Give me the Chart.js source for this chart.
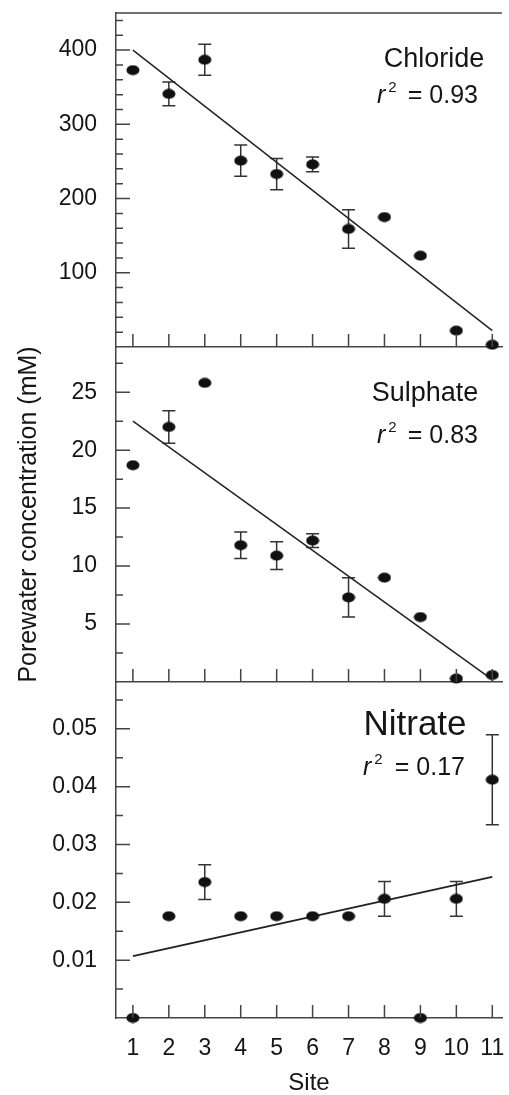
<!DOCTYPE html>
<html>
<head>
<meta charset="utf-8">
<script src="https://cdn.jsdelivr.net/npm/chart.js@4.4.0/dist/chart.umd.min.js"></script>
<style>
  html, body { margin: 0; padding: 0; background: #fff; }
  #wrap { position: relative; width: 509px; height: 1095px; overflow: hidden; }
  #wrap canvas { position: absolute; left: 0; top: 0; }
</style>
</head>
<body>
<div id="wrap">
  <canvas id="chloride" width="509" height="1095"></canvas>
  <canvas id="sulphate" width="509" height="1095"></canvas>
  <canvas id="nitrate" width="509" height="1095"></canvas>
</div>
<script>
// data
const sites = [1, 2, 3, 4, 5, 6, 7, 8, 9, 10, 11];
const chloride = [373, 341, 387, 251, 233, 246, 159, 175, 123, 22, 3];
const chlorideErr = [0, 16, 21, 21, 21, 10, 26, 0, 0, 0, 0];
const sulphate = [18.7, 22.0, 25.8, 11.8, 10.9, 12.2, 7.3, 9.0, 5.6, 0.3, 0.6];
const sulphateErr = [0, 1.4, 0, 1.15, 1.2, 0.6, 1.7, 0, 0, 0, 0];
const nitrate = [0, 0.0176, 0.0235, 0.0176, 0.0176, 0.0176, 0.0176, 0.0206, 0, 0.0206, 0.0412];
const nitrateErr = [0, 0, 0.003, 0, 0, 0, 0, 0.003, 0, 0.003, 0.0078];

// regression lines (end points at site 1 and 11)
const fitSites = [1, 11];
const chlorideFit = [400, 22];
const sulphateFit = [22.5, 0.2];
const nitrateFit = [0.0107, 0.0244];
const rSquared = ['0.93', '0.83', '0.17'];

// tick labels
const xTickLabels = ['1', '2', '3', '4', '5', '6', '7', '8', '9', '10', '11'];
const chlorideTicks = [100, 200, 300, 400];
const sulphateTicks = [5, 10, 15, 20, 25];
const nitrateTicks = [0.01, 0.02, 0.03, 0.04, 0.05];

const FONT = "'Liberation Sans', Arial, Helvetica, sans-serif";
const INK = '#151515';
const AXIS = '#444';

// slightly flattened dot like in the original print
const dot = document.createElement('canvas');
dot.width = 14; dot.height = 11;
const dctx = dot.getContext('2d');
dctx.fillStyle = '#111';
dctx.beginPath();
dctx.ellipse(7, 5.5, 6.5, 5, 0, 0, Math.PI * 2);
dctx.fill();

// error bars, inside ticks, top frame and panel labels
const panelDecor = {
    id: 'panelDecor',
    beforeDatasetsDraw(chart, args, o) {
        const { ctx, scales: { x, y } } = chart;
        ctx.save();
        ctx.strokeStyle = '#333';
        ctx.lineWidth = 1.5;
        ctx.beginPath();
        o.values.forEach((v, i) => {
            const e = o.err[i];
            if (!e) return;
            const px = x.getPixelForValue(sites[i]);
            const top = y.getPixelForValue(v + e);
            const bot = y.getPixelForValue(v - e);
            ctx.moveTo(px, top); ctx.lineTo(px, bot);
            ctx.moveTo(px - 6.5, top); ctx.lineTo(px + 6.5, top);
            ctx.moveTo(px - 6.5, bot); ctx.lineTo(px + 6.5, bot);
        });
        ctx.stroke();
        ctx.restore();
    },
    afterDraw(chart, args, o) {
        const { ctx, chartArea: a, scales: { x, y } } = chart;
        ctx.save();
        ctx.strokeStyle = AXIS;
        ctx.lineWidth = 1.5;
        ctx.beginPath();
        const n = Math.floor(y.max / o.minorStep + 1e-6);
        for (let k = 1; k <= n; k++) {
            const v = k * o.minorStep;
            const py = y.getPixelForValue(v);
            const major = k % o.minorPerMajor === 0;
            ctx.moveTo(a.left, py);
            ctx.lineTo(a.left + (major ? 14 : 7), py);
        }
        sites.forEach(s => {
            const px = x.getPixelForValue(s);
            ctx.moveTo(px, a.bottom);
            ctx.lineTo(px, a.bottom - 13);
        });
        if (o.topBorder) {
            ctx.moveTo(a.left, a.top);
            ctx.lineTo(a.right, a.top);
        }
        ctx.stroke();

        // panel name
        ctx.fillStyle = INK;
        ctx.textBaseline = 'alphabetic';
        ctx.textAlign = 'center';
        ctx.font = o.nameSize + 'px ' + FONT;
        ctx.fillText(o.name, o.nameX, o.nameY);

        // r^2 = value
        ctx.textAlign = 'left';
        ctx.font = 'italic 25px ' + FONT;
        ctx.fillText('r', o.rLeft, o.rY);
        const rw = ctx.measureText('r').width;
        ctx.font = '15px ' + FONT;
        ctx.fillText('2', o.rLeft + rw + 3, o.rY - 11);
        ctx.textAlign = 'right';
        ctx.font = '25px ' + FONT;
        ctx.fillText('= ' + o.r2, o.rRight, o.rY);
        ctx.restore();
    }
};

function makePanel(id, opts) {
    const isBottom = !!opts.bottom;
    new Chart(document.getElementById(id), {
        type: 'scatter',
        data: {
            datasets: [{
                data: sites.map((s, i) => ({ x: s, y: opts.values[i] })),
                pointStyle: dot,
                pointRadius: 6,
                pointHoverRadius: 6,
                clip: false
            }, {
                data: fitSites.map((s, i) => ({ x: s, y: opts.fit[i] })),
                showLine: true,
                borderColor: '#222',
                borderWidth: opts.fitWidth,
                pointRadius: 0,
                pointHoverRadius: 0
            }]
        },
        options: {
            responsive: false,
            animation: false,
            events: [],
            layout: { padding: { top: opts.top, bottom: opts.bottomPad, left: 0, right: 0 } },
            plugins: {
                legend: { display: false },
                tooltip: { enabled: false },
                panelDecor: {
                    values: opts.values,
                    err: opts.err,
                    minorStep: opts.minorStep,
                    minorPerMajor: opts.minorPerMajor,
                    topBorder: !!opts.topBorder,
                    name: opts.name, nameSize: opts.nameSize, nameX: opts.nameX, nameY: opts.nameY,
                    r2: opts.r2, rLeft: opts.rLeft, rRight: opts.rRight, rY: opts.rY
                }
            },
            scales: {
                x: {
                    type: 'linear',
                    min: 0.53,
                    max: 11.27,
                    grid: { display: false, drawTicks: false },
                    border: { display: true, color: AXIS, width: 1.5 },
                    afterBuildTicks: s => { s.ticks = sites.map(v => ({ value: v })); },
                    ticks: {
                        display: isBottom,
                        autoSkip: false,
                        maxRotation: 0,
                        padding: 17,
                        color: INK,
                        font: { family: FONT, size: 23, lineHeight: 1.2 },
                        callback: (v, i) => xTickLabels[i]
                    },
                    title: {
                        display: isBottom,
                        text: 'Site',
                        color: INK,
                        padding: { top: 0, bottom: 0 },
                        font: { family: FONT, size: 24, lineHeight: 1 }
                    },
                    afterFit: s => {
                        s.height = isBottom ? 77 : 0;
                        s.paddingLeft = 0;
                        s.paddingRight = 0;
                    }
                },
                y: {
                    type: 'linear',
                    min: 0,
                    max: opts.max,
                    grid: { display: false, drawTicks: false },
                    border: { display: true, color: AXIS, width: 1.5 },
                    afterBuildTicks: s => { s.ticks = opts.ticks.map(v => ({ value: v })); },
                    ticks: {
                        padding: 19,
                        color: INK,
                        font: { family: FONT, size: 23, lineHeight: 1 },
                        callback: v => String(v)
                    },
                    title: {
                        display: !!opts.yTitle,
                        text: 'Porewater concentration (mM)',
                        color: INK,
                        padding: { top: 14, bottom: 0 },
                        font: { family: FONT, size: 25, lineHeight: 1.2 }
                    },
                    afterFit: s => {
                        s.width = 116;
                        s.paddingTop = 0;
                        s.paddingBottom = 0;
                    }
                }
            }
        },
        plugins: [panelDecor]
    });
}

makePanel('chloride', {
    values: chloride, err: chlorideErr, fit: chlorideFit, fitWidth: 1.5,
    max: 450, ticks: chlorideTicks, minorStep: 20, minorPerMajor: 5,
    top: 13, bottomPad: 1095 - 347, topBorder: true,
    name: 'Chloride', nameSize: 27, nameX: 434, nameY: 67,
    r2: rSquared[0], rLeft: 377, rRight: 478, rY: 103
});

makePanel('sulphate', {
    values: sulphate, err: sulphateErr, fit: sulphateFit, fitWidth: 1.5,
    max: 28.9, ticks: sulphateTicks, minorStep: 2.5, minorPerMajor: 2,
    top: 347, bottomPad: 1095 - 682, yTitle: true,
    name: 'Sulphate', nameSize: 27, nameX: 425, nameY: 401,
    r2: rSquared[1], rLeft: 377, rRight: 478, rY: 443
});

makePanel('nitrate', {
    values: nitrate, err: nitrateErr, fit: nitrateFit, fitWidth: 2,
    max: 0.0581, ticks: nitrateTicks, minorStep: 0.005, minorPerMajor: 2,
    top: 682, bottomPad: 0, bottom: true,
    name: 'Nitrate', nameSize: 35, nameX: 415, nameY: 735,
    r2: rSquared[2], rLeft: 363, rRight: 465, rY: 775
});
</script>
</body>
</html>
